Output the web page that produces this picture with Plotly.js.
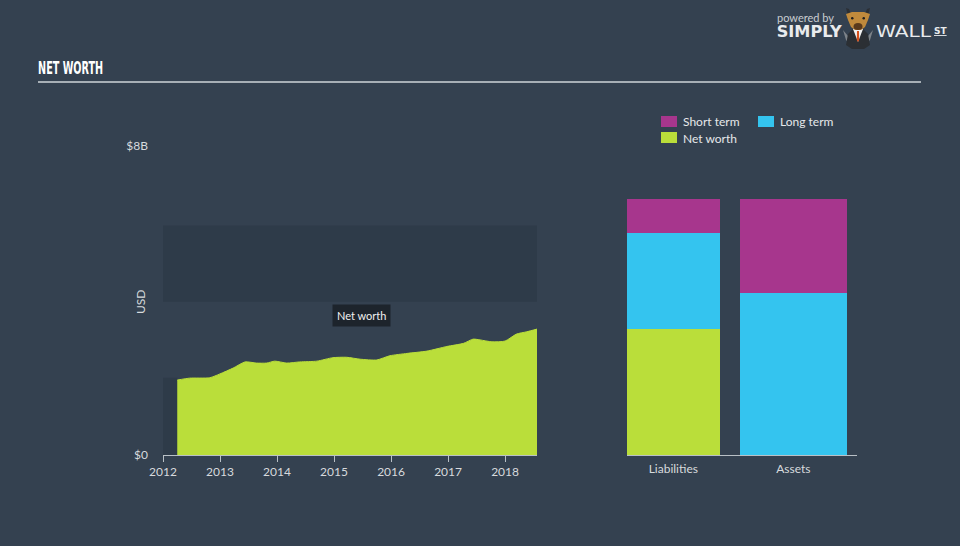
<!DOCTYPE html>
<html>
<head>
<meta charset="utf-8">
<script src="https://cdn.plot.ly/plotly-3.0.1.min.js"></script>
<style>
html,body{margin:0;padding:0;background:#344150;}
#chart{width:960px;height:546px;}
</style>
</head>
<body>
<div id="chart"></div>
<script>
// ---- data (USD billions) ----
var nwYears = [2012.25, 2012.47, 2012.82, 2013.0, 2013.23, 2013.44, 2013.64, 2013.82, 2013.96, 2014.17, 2014.4, 2014.7, 2014.98, 2015.22, 2015.46, 2015.75, 2015.98, 2016.28, 2016.63, 2016.98, 2017.27, 2017.44, 2017.56, 2017.77, 2018.0, 2018.2, 2018.38, 2018.56];
var nwValues = [1.94, 1.99, 2.0, 2.10, 2.25, 2.41, 2.38, 2.38, 2.43, 2.38, 2.41, 2.43, 2.52, 2.53, 2.48, 2.46, 2.57, 2.63, 2.69, 2.81, 2.89, 3.0, 2.98, 2.93, 2.95, 3.13, 3.19, 3.26];
var yearTicks = [2012, 2013, 2014, 2015, 2016, 2017, 2018, 2019];
var yearLabels = ['2012', '2013', '2014', '2015', '2016', '2017', '2018', '2019'];
var yTickVals = [0, 8];
var yTickText = ['$0', '$8B'];
var bandRange = [3.97, 5.94];

var barCategories = ['Liabilities', 'Assets'];
var barPos = [0, 1];
var netWorthBar = [3.26, 0];
var longTermBar = [2.48, 4.19];
var shortTermBar = [0.90, 2.45];
var barWidths = [0.775, 0.89];

// ---- colours ----
var GREEN = '#bade3a', CYAN = '#34c4ef', MAGENTA = '#a7368d';
var BG = '#344150', BAND = '#2e3b49', TXT = '#d7dadd';

function px(x){ return x/960; }
function py(y){ return 1 - y/546; }
function pathPx(pts){
  return pts.map(function(p, i){ return (i === 0 ? 'M' : 'L') + px(p[0]) + ',' + py(p[1]); }).join(' ') + ' Z';
}

var traces = [
  {x: nwYears, y: nwValues, type: 'scatter', mode: 'lines', fill: 'tozeroy',
   line: {shape: 'spline', smoothing: 0.6, color: GREEN, width: 1}, fillcolor: GREEN,
   xaxis: 'x', yaxis: 'y', hoverinfo: 'skip', showlegend: false, name: 'Net worth'},
  {x: barPos, y: netWorthBar, width: barWidths, type: 'bar', name: 'Net worth', marker: {color: GREEN, line: {width: 0}},
   xaxis: 'x2', yaxis: 'y2', hoverinfo: 'skip', showlegend: false},
  {x: barPos, y: longTermBar, width: barWidths, type: 'bar', name: 'Long term', marker: {color: CYAN, line: {width: 0}},
   xaxis: 'x2', yaxis: 'y2', hoverinfo: 'skip', showlegend: false},
  {x: barPos, y: shortTermBar, width: barWidths, type: 'bar', name: 'Short term', marker: {color: MAGENTA, line: {width: 0}},
   xaxis: 'x2', yaxis: 'y2', hoverinfo: 'skip', showlegend: false}
];

var font = {family: 'Lato, "Noto Sans", sans-serif', size: 12, color: TXT};

var shapes = [
  {type: 'line', xref: 'paper', yref: 'paper', x0: px(38), x1: px(921), y0: py(82), y1: py(82), line: {color: '#a7afb6', width: 2}},
  {type: 'rect', xref: 'x', yref: 'y', x0: yearTicks[0], x1: nwYears[nwYears.length-1], y0: bandRange[0], y1: bandRange[1],
   fillcolor: BAND, line: {width: 0}, layer: 'below'},
  {type: 'rect', xref: 'x', yref: 'y', x0: yearTicks[0], x1: nwYears[0], y0: 0, y1: 2.0,
   fillcolor: BAND, line: {width: 0}, layer: 'below'},
  {type: 'rect', xref: 'paper', yref: 'paper', x0: px(661), x1: px(677), y0: py(127), y1: py(116), fillcolor: MAGENTA, line: {width: 0}},
  {type: 'rect', xref: 'paper', yref: 'paper', x0: px(758), x1: px(774), y0: py(127), y1: py(116), fillcolor: CYAN, line: {width: 0}},
  {type: 'rect', xref: 'paper', yref: 'paper', x0: px(661), x1: px(677), y0: py(143), y1: py(132), fillcolor: GREEN, line: {width: 0}},
  // logo bull
  {type: 'path', xref: 'paper', yref: 'paper', fillcolor: '#7d8389', line: {width: 0},
   path: pathPx([[843,30],[846,40],[850,45],[858,48],[866,45],[870,40],[873,30],[868,36],[858,38],[848,36]])},
  {type: 'path', xref: 'paper', yref: 'paper', fillcolor: '#2b2f34', line: {width: 0},
   path: pathPx([[846,45],[848,34],[853,29],[863,29],[868,34],[870,45],[864,49],[852,49]])},
  {type: 'path', xref: 'paper', yref: 'paper', fillcolor: '#f2f2f2', line: {width: 0},
   path: pathPx([[853,29],[858,42],[863,29]])},
  {type: 'path', xref: 'paper', yref: 'paper', fillcolor: '#d6501c', line: {width: 0},
   path: pathPx([[857,31],[859,31],[859.2,40],[858,42],[856.8,40]])},
  {type: 'path', xref: 'paper', yref: 'paper', fillcolor: '#2b2f34', line: {width: 0},
   path: pathPx([[848,16],[846,8],[849,9],[851,14]])},
  {type: 'path', xref: 'paper', yref: 'paper', fillcolor: '#2b2f34', line: {width: 0},
   path: pathPx([[868,16],[870,8],[867,9],[865,14]])},
  {type: 'path', xref: 'paper', yref: 'paper', fillcolor: '#c08a3c', line: {width: 0},
   path: pathPx([[846,14],[852,12],[864,12],[870,14],[868,20],[865,27],[861,30],[855,30],[851,27],[848,20]])},
  {type: 'circle', xref: 'paper', yref: 'paper', x0: px(853.5), x1: px(862.5), y0: py(30), y1: py(23),
   fillcolor: '#5a3a1c', line: {width: 0}},
  {type: 'circle', xref: 'paper', yref: 'paper', x0: px(851), x1: px(853.5), y0: py(19.5), y1: py(17), fillcolor: '#1e1e1e', line: {width: 0}},
  {type: 'circle', xref: 'paper', yref: 'paper', x0: px(862.5), x1: px(865), y0: py(19.5), y1: py(17), fillcolor: '#1e1e1e', line: {width: 0}}
];

var annotations = [
  {xref: 'paper', yref: 'paper', x: px(70.5), y: py(67), xanchor: 'center', yanchor: 'middle', showarrow: false,
   text: '<b>NET WORTH</b>', font: {family: '"DejaVu Sans Condensed", "DejaVu Sans", sans-serif', size: 18, color: '#ffffff'}},
  {xref: 'paper', yref: 'paper', x: px(775), y: py(18), xanchor: 'left', yanchor: 'middle', showarrow: false,
   text: 'powered by', font: {family: 'Lato, sans-serif', size: 11, color: '#c9cdd1'}},
  {xref: 'paper', yref: 'paper', x: px(809.5), y: py(32), xanchor: 'center', yanchor: 'middle', showarrow: false,
   text: '<b>SIMPLY</b>', font: {family: '"DejaVu Sans", sans-serif', size: 15, color: '#e9ebed'}},
  {xref: 'paper', yref: 'paper', x: px(904), y: py(32), xanchor: 'center', yanchor: 'middle', showarrow: false,
   text: 'WALL', font: {family: '"DejaVu Sans", sans-serif', size: 15, color: '#e9ebed'}},
  {xref: 'paper', yref: 'paper', x: px(932), y: py(31), xanchor: 'left', yanchor: 'middle', showarrow: false,
   text: '<b><u>ST</u></b>', font: {family: '"DejaVu Sans", sans-serif', size: 9, color: '#e9ebed'}},
  {xref: 'paper', yref: 'paper', x: px(681), y: py(122), xanchor: 'left', yanchor: 'middle', showarrow: false,
   text: 'Short term', font: {family: font.family, size: 12, color: '#e6e8ea'}},
  {xref: 'paper', yref: 'paper', x: px(778), y: py(122), xanchor: 'left', yanchor: 'middle', showarrow: false,
   text: 'Long term', font: {family: font.family, size: 12, color: '#e6e8ea'}},
  {xref: 'paper', yref: 'paper', x: px(681), y: py(138), xanchor: 'left', yanchor: 'middle', showarrow: false,
   text: 'Net worth', font: {family: font.family, size: 12, color: '#e6e8ea'}},
  {xref: 'paper', yref: 'paper', x: px(140), y: py(302), xanchor: 'center', yanchor: 'middle', showarrow: false,
   textangle: -90, text: 'USD', font: {family: font.family, size: 12, color: TXT}},
  {xref: 'paper', yref: 'paper', x: px(361), y: py(315), xanchor: 'center', yanchor: 'middle', showarrow: false,
   text: 'Net worth', bgcolor: '#1d242c', borderpad: 4, font: {family: font.family, size: 11, color: '#f0f0f0'}}
];

var layout = {
  width: 960, height: 546,
  margin: {l: 0, r: 0, t: 0, b: 0},
  paper_bgcolor: BG, plot_bgcolor: 'rgba(0,0,0,0)',
  font: font,
  showlegend: false,
  barmode: 'stack',
  xaxis: {domain: [px(163), px(537)], range: [yearTicks[0], nwYears[nwYears.length-1]],
    tickvals: yearTicks, ticktext: yearLabels, ticks: 'outside', ticklen: 6, tickcolor: '#b9c0c6',
    showline: true, linecolor: '#b9c0c6', linewidth: 1, showgrid: false, zeroline: false,
    tickfont: {family: font.family, size: 12, color: TXT}, fixedrange: true, anchor: 'y'},
  yaxis: {domain: [py(455), py(146)], range: [0, 8], tickvals: yTickVals, ticktext: yTickText,
    showgrid: false, zeroline: false, showline: false, ticks: '', ticklabelstandoff: 14,
    tickfont: {family: font.family, size: 12, color: TXT}, fixedrange: true, anchor: 'x'},
  xaxis2: {domain: [px(627), px(857)], range: [-0.386, 1.531], tickvals: barPos, ticktext: barCategories,
    ticks: '', showline: true, linecolor: '#b9c0c6', linewidth: 1, showgrid: false, zeroline: false,
    ticklabelstandoff: 3,
    tickfont: {family: font.family, size: 12, color: TXT}, anchor: 'y2', fixedrange: true},
  yaxis2: {domain: [py(455), py(146)], range: [0, 8], visible: false, anchor: 'x2', fixedrange: true},
  shapes: shapes,
  annotations: annotations
};

Plotly.newPlot('chart', traces, layout, {staticPlot: true, displayModeBar: false}).then(function(){
  // squeeze / stretch a few logo & title texts to their reference widths (kept centred)
  var fits = {'NET WORTH': 65, 'SIMPLY': 65, 'WALL': 55};
  document.querySelectorAll('#chart .annotation-text').forEach(function(t){
    var w = fits[t.textContent];
    if (w) {
      t.setAttribute('textLength', w);
      t.setAttribute('lengthAdjust', 'spacingAndGlyphs');
    }
  });
});
</script>
</body>
</html>
